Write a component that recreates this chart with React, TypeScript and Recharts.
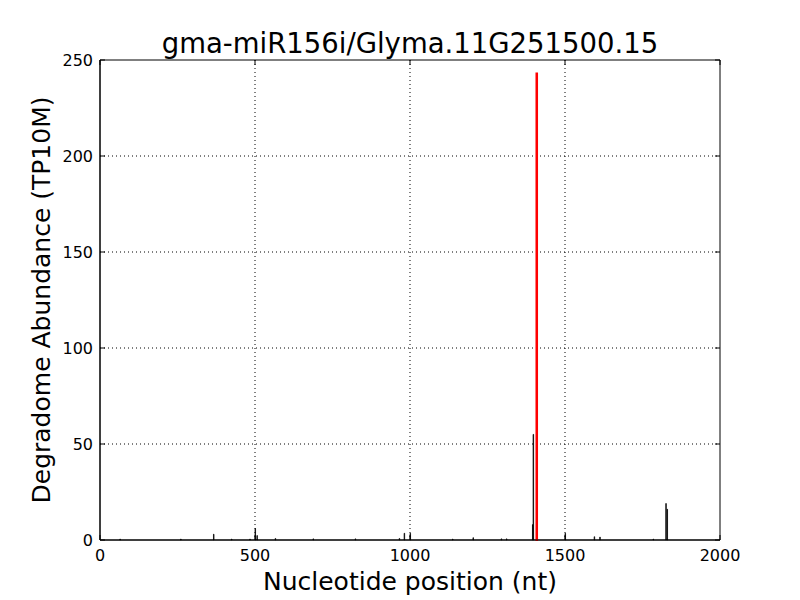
import {
  ComposedChart,
  Bar,
  XAxis,
  YAxis,
  CartesianGrid,
  ReferenceArea,
} from "recharts";

// cleavage-site reads along the transcript
const positions = [65, 261, 367, 425, 484, 501, 507, 566, 688, 824, 966, 982, 1001, 1138, 1204, 1295, 1312, 1396, 1398, 1501, 1595, 1613, 1785, 1826, 1830];
const abundance = [0.5, 0.5, 3, 0.5, 0.5, 6, 2.3, 0.8, 0.6, 0.6, 0.8, 3.5, 3.5, 0.5, 1.2, 0.6, 0.6, 8, 55, 3.5, 1.7, 1.5, 0.5, 19, 16];

// predicted target site
const targetPosition = 1409;
const targetAbundance = 243;

const xTicks = [0, 500, 1000, 1500, 2000];
const yTicks = [0, 50, 100, 150, 200, 250];

const chartData: any[] = positions.map((p, i) => ({ pos: p, ab: abundance[i], target: null }));
chartData.push({ pos: targetPosition, ab: null, target: targetAbundance });
chartData.sort((a, b) => a.pos - b.pos);

const font = "'DejaVu Sans', sans-serif";
const plot = { left: 100, right: 720, top: 60, bottom: 540 };

const XTick = (props: any) => {
  const { x, payload } = props;
  return (
    <g>
      <line x1={x} x2={x} y1={plot.bottom} y2={plot.bottom - 5} stroke="#000" />
      <line x1={x} x2={x} y1={plot.top} y2={plot.top + 5} stroke="#000" />
      <text x={x} y={561} textAnchor="middle" fontSize={16} fontFamily={font} fill="#000">
        {payload.value}
      </text>
    </g>
  );
};

const YTick = (props: any) => {
  const { y, payload } = props;
  return (
    <g>
      <line x1={plot.left} x2={plot.left + 5} y1={y} y2={y} stroke="#000" />
      <line x1={plot.right} x2={plot.right - 5} y1={y} y2={y} stroke="#000" />
      <text x={93} y={y + 5.5} textAnchor="end" fontSize={16} fontFamily={font} fill="#000">
        {payload.value}
      </text>
    </g>
  );
};

const App = () => {
  return (
    <div style={{ position: "absolute", left: 0, top: 0, width: 800, height: 600, background: "#fff" }}>
      <div
        style={{
          position: "absolute",
          left: 0,
          width: 820,
          top: 27,
          textAlign: "center",
          fontFamily: font,
          fontSize: 27.5,
          lineHeight: "32px",
          color: "#000",
        }}
      >
        gma-miR156i/Glyma.11G251500.15
      </div>
      <div
        style={{
          position: "absolute",
          left: 0,
          width: 820,
          top: 567,
          textAlign: "center",
          fontFamily: font,
          fontSize: 25,
          lineHeight: "30px",
          color: "#000",
        }}
      >
        Nucleotide position (nt)
      </div>
      <div
        style={{
          position: "absolute",
          left: 42,
          top: 300,
          transform: "translate(-50%, -50%) rotate(-90deg)",
          whiteSpace: "nowrap",
          fontFamily: font,
          fontSize: 25,
          lineHeight: "30px",
          color: "#000",
        }}
      >
        Degradome Abundance (TP10M)
      </div>
      <ComposedChart
        width={800}
        height={600}
        data={chartData}
        margin={{ top: 60, right: 80, bottom: 0, left: 0 }}
        style={{ position: "absolute", left: 0, top: 0 }}
      >
        <CartesianGrid
          stroke="#000"
          strokeDasharray="1 3"
          horizontalValues={[50, 100, 150, 200]}
          verticalValues={[500, 1000, 1500]}
        />
        <XAxis
          dataKey="pos"
          type="number"
          domain={[0, 2000]}
          ticks={xTicks}
          height={60}
          tickLine={false}
          axisLine={{ stroke: "#000" }}
          tick={<XTick />}
          interval={0}
        />
        <XAxis
          xAxisId="top"
          dataKey="pos"
          type="number"
          orientation="top"
          domain={[0, 2000]}
          height={0}
          hide
        />
        <YAxis
          type="number"
          domain={[0, 250]}
          ticks={yTicks}
          width={100}
          tickLine={false}
          axisLine={{ stroke: "#000" }}
          tick={<YTick />}
          interval={0}
        />
        <Bar dataKey="ab" fill="#000" stroke="#000" strokeWidth={0.7} barSize={1} isAnimationActive={false} />
        <Bar
          dataKey="target"
          xAxisId="top"
          fill="#ff0000"
          stroke="#ff0000"
          strokeWidth={2}
          barSize={1}
          isAnimationActive={false}
        />
        <ReferenceArea x1={0} x2={2000} y1={0} y2={250} fill="none" stroke="#000" strokeWidth={1} ifOverflow="visible" />
      </ComposedChart>
    </div>
  );
};

export default App;
